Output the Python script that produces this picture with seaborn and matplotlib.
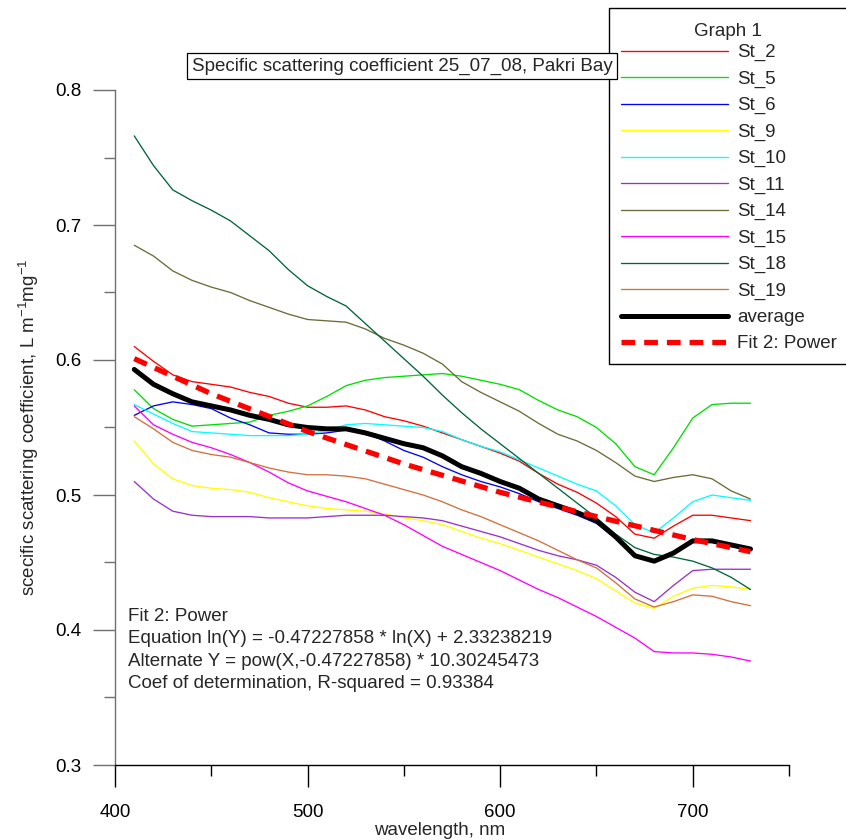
import matplotlib
matplotlib.use('Agg')
import matplotlib.pyplot as plt
from matplotlib.patches import Rectangle
from matplotlib.ticker import MultipleLocator
import seaborn as sns

# wavelength grid, nm
wavelength = list(range(410, 740, 10))

st_2 = [0.610, 0.599, 0.589, 0.584, 0.582, 0.580, 0.576, 0.573, 0.568, 0.565, 0.565,
        0.566, 0.563, 0.558, 0.555, 0.551, 0.546, 0.541, 0.536, 0.531, 0.525, 0.516,
        0.508, 0.502, 0.494, 0.484, 0.471, 0.468, 0.477, 0.485, 0.485, 0.483, 0.481]
st_5 = [0.578, 0.564, 0.556, 0.551, 0.552, 0.553, 0.554, 0.559, 0.562, 0.566, 0.573,
        0.581, 0.585, 0.587, 0.588, 0.589, 0.590, 0.588, 0.585, 0.582, 0.578, 0.570,
        0.563, 0.558, 0.550, 0.538, 0.521, 0.515, 0.535, 0.557, 0.567, 0.568, 0.568]
st_6 = [0.559, 0.566, 0.569, 0.567, 0.564, 0.557, 0.552, 0.546, 0.545, 0.545, 0.546,
        0.548, 0.546, 0.540, 0.533, 0.528, 0.521, 0.515, 0.510, 0.506, 0.501, 0.495,
        0.490, 0.485, 0.479, 0.468, 0.455, 0.451, 0.457, 0.465, 0.465, 0.462, 0.459]
st_9 = [0.540, 0.523, 0.512, 0.507, 0.505, 0.504, 0.502, 0.498, 0.495, 0.492, 0.490,
        0.489, 0.488, 0.486, 0.483, 0.481, 0.478, 0.473, 0.468, 0.464, 0.459, 0.454,
        0.449, 0.444, 0.438, 0.429, 0.420, 0.416, 0.425, 0.431, 0.433, 0.432, 0.430]
st_10 = [0.567, 0.560, 0.553, 0.547, 0.546, 0.545, 0.544, 0.544, 0.544, 0.545, 0.548,
         0.552, 0.553, 0.552, 0.551, 0.550, 0.547, 0.541, 0.536, 0.532, 0.526, 0.520,
         0.514, 0.508, 0.503, 0.492, 0.478, 0.472, 0.483, 0.495, 0.500, 0.498, 0.496]
st_11 = [0.510, 0.497, 0.488, 0.485, 0.484, 0.484, 0.484, 0.483, 0.483, 0.483, 0.484,
         0.485, 0.485, 0.485, 0.484, 0.483, 0.481, 0.477, 0.473, 0.469, 0.464, 0.459,
         0.455, 0.452, 0.448, 0.439, 0.428, 0.421, 0.433, 0.444, 0.445, 0.445, 0.445]
st_14 = [0.685, 0.677, 0.666, 0.659, 0.654, 0.650, 0.644, 0.639, 0.634, 0.630, 0.629,
         0.628, 0.623, 0.616, 0.611, 0.605, 0.597, 0.584, 0.576, 0.569, 0.562, 0.553,
         0.545, 0.540, 0.533, 0.524, 0.514, 0.510, 0.513, 0.515, 0.512, 0.503, 0.497]
st_15 = [0.566, 0.552, 0.545, 0.539, 0.535, 0.530, 0.524, 0.517, 0.509, 0.503, 0.499,
         0.495, 0.490, 0.485, 0.478, 0.470, 0.462, 0.456, 0.450, 0.444, 0.437, 0.430,
         0.424, 0.417, 0.410, 0.402, 0.394, 0.384, 0.383, 0.383, 0.382, 0.380, 0.377]
st_18 = [0.766, 0.744, 0.726, 0.718, 0.711, 0.703, 0.692, 0.681, 0.667, 0.655, 0.647,
         0.640, 0.627, 0.614, 0.601, 0.588, 0.574, 0.561, 0.549, 0.538, 0.527, 0.516,
         0.505, 0.494, 0.483, 0.471, 0.461, 0.456, 0.454, 0.451, 0.446, 0.439, 0.430]
st_19 = [0.558, 0.549, 0.539, 0.533, 0.530, 0.528, 0.524, 0.520, 0.517, 0.515, 0.515,
         0.514, 0.512, 0.508, 0.504, 0.500, 0.495, 0.489, 0.484, 0.478, 0.472, 0.466,
         0.459, 0.452, 0.446, 0.435, 0.423, 0.417, 0.421, 0.426, 0.425, 0.421, 0.418]
average = [0.593, 0.582, 0.575, 0.569, 0.566, 0.563, 0.559, 0.556, 0.552, 0.550, 0.549,
           0.549, 0.546, 0.542, 0.538, 0.535, 0.529, 0.521, 0.516, 0.510, 0.505, 0.497,
           0.492, 0.487, 0.481, 0.469, 0.455, 0.451, 0.457, 0.466, 0.466, 0.463, 0.460]

# power fit read at a few wavelengths
fit_wavelength = [410, 450, 500, 550, 600, 650, 700, 730]
fit_power = [0.601, 0.575, 0.547, 0.523, 0.502, 0.484, 0.467, 0.458]

stations = ['St_2', 'St_5', 'St_6', 'St_9', 'St_10', 'St_11', 'St_14', 'St_15', 'St_18', 'St_19']
station_values = [st_2, st_5, st_6, st_9, st_10, st_11, st_14, st_15, st_18, st_19]
station_colors = ['#ff0000', '#00e000', '#0000ff', '#ffff00', '#00ffff', '#9932cc',
                  '#6b6b3a', '#ff00ff', '#00663a', '#d2703c']

fit_lines = ['Fit 2: Power',
             'Equation ln(Y) = -0.47227858 * ln(X) + 2.33238219',
             'Alternate Y = pow(X,-0.47227858) * 10.30245473',
             'Coef of determination, R-squared = 0.93384']

FS = 13.5

sns.set_style('ticks')
plt.rcParams['font.family'] = ['Liberation Sans', 'DejaVu Sans']
plt.rcParams['mathtext.fontset'] = 'custom'
plt.rcParams['mathtext.rm'] = 'Liberation Sans'
plt.rcParams['mathtext.it'] = 'Liberation Sans:italic'

fig = plt.figure(figsize=(8.46, 8.40), dpi=100)
ax = fig.add_axes([115 / 846, 75 / 840, 674 / 846, 675 / 840])

for name, vals, col in zip(stations, station_values, station_colors):
    sns.lineplot(x=wavelength, y=vals, color=col, lw=0.95, label=name, ax=ax)

sns.lineplot(x=wavelength, y=average, color='black', lw=3.6, label='average', ax=ax)
sns.lineplot(x=fit_wavelength, y=fit_power, color='#ff0000', lw=3.8,
             linestyle=(0, (2.6, 1.7)), label='Fit 2: Power', ax=ax)

ax.set_xlim(400, 750)
ax.set_ylim(0.3, 0.8)
ax.xaxis.set_minor_locator(MultipleLocator(50))
ax.yaxis.set_minor_locator(MultipleLocator(0.05))
ax.set_xticks([400, 500, 600, 700])
ax.set_xticklabels(['400', '500', '600', '700'])
ax.set_yticks([0.3, 0.4, 0.5, 0.6, 0.7, 0.8])
ax.set_yticklabels(['0.3', '0.4', '0.5', '0.6', '0.7', '0.8'])

sns.despine(ax=ax)
ax.spines['left'].set_color('#707070')
ax.spines['left'].set_linewidth(1.0)
ax.spines['bottom'].set_color('black')
ax.spines['bottom'].set_linewidth(1.0)
ax.tick_params(axis='both', which='major', direction='out', length=16, width=1.0,
               labelsize=FS, labelcolor='black')
ax.tick_params(axis='both', which='minor', direction='out', length=8, width=1.0)
ax.tick_params(axis='y', which='both', color='#707070', pad=8)
ax.tick_params(axis='x', which='both', color='black', pad=12)

ax.set_xlabel('wavelength, nm', fontsize=FS, va='center')
ax.xaxis.set_label_coords(0.482, -0.097)
ax.set_ylabel(r'scecific scattering coefficient, L m$^{-1}$mg$^{-1}$', fontsize=FS,
              va='center')
ax.yaxis.set_label_coords(-0.128, 0.5)

for i, line in enumerate(fit_lines):
    ax.text(0.0193, 0.2200 - i * 0.0331, line, transform=ax.transAxes,
            fontsize=FS, va='center', ha='left')

# legend: frame and title drawn separately so the spacing matches
handles, labels = ax.get_legend_handles_labels()
ax.get_legend().remove()
fig.patches.append(Rectangle((609 / 846, 1 - 364 / 840), 250 / 846, 356 / 840,
                             transform=fig.transFigure, fc='white', ec='black',
                             lw=1.0, zorder=4))
fig.text(728 / 846, 1 - 32 / 840, 'Graph 1', fontsize=FS, ha='center', va='center',
         zorder=6)
fig.legend(handles, labels, loc='upper left', bbox_to_anchor=(621 / 846, 1 - 44 / 840),
           bbox_transform=fig.transFigure, fontsize=FS, frameon=False,
           handlelength=5.7, handletextpad=0.5, labelspacing=0.49,
           borderpad=0, borderaxespad=0)

fig.text(402 / 846, 1 - 66 / 840, 'Specific scattering coefficient 25_07_08, Pakri Bay',
         fontsize=FS, ha='center', va='center', zorder=10,
         bbox=dict(boxstyle='square,pad=0.25', fc='white', ec='black', lw=0.9))

fig.savefig('out.png', dpi=100)
